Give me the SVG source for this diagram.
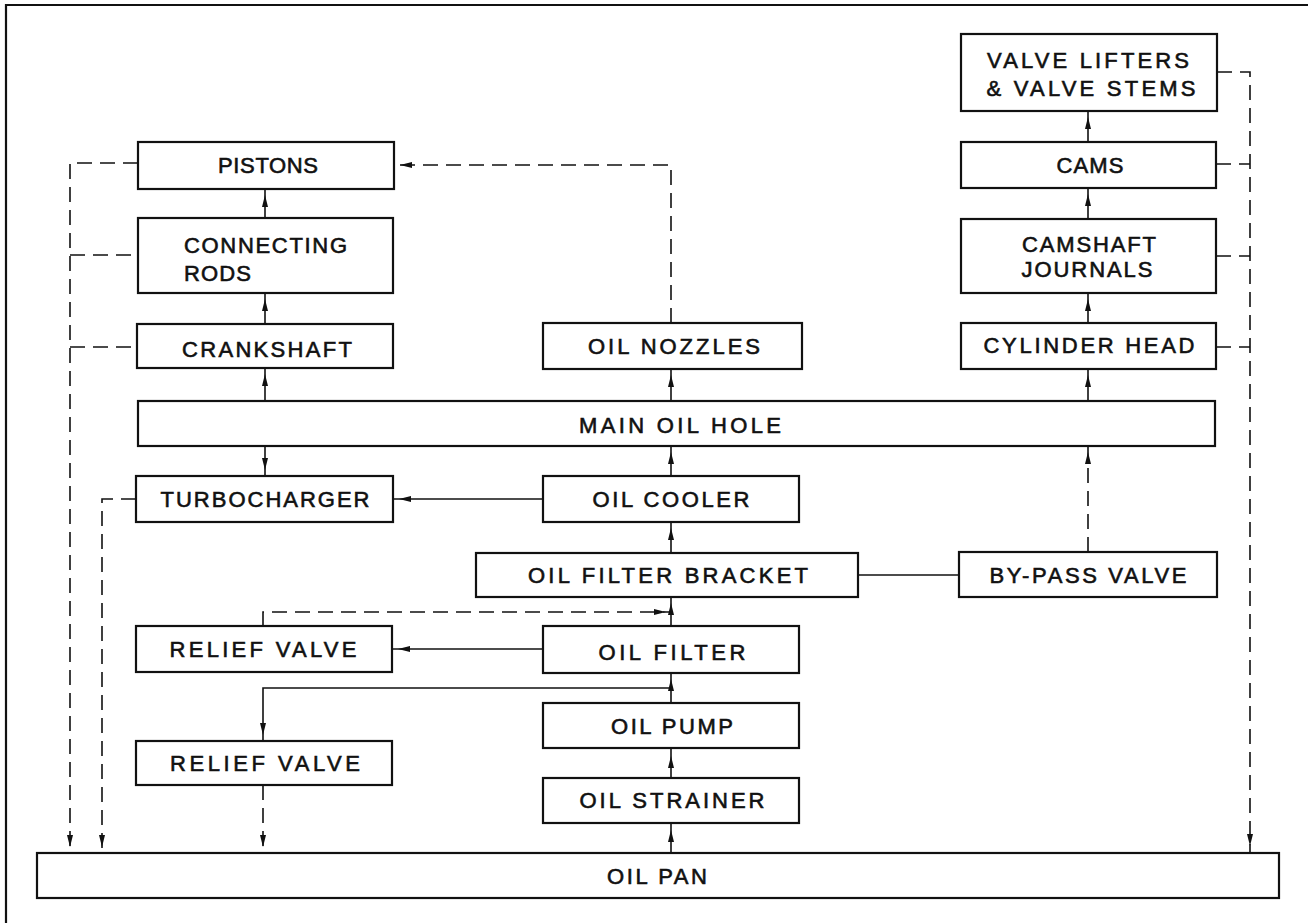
<svg xmlns="http://www.w3.org/2000/svg" xmlns:xlink="http://www.w3.org/1999/xlink" width="1308" height="923" viewBox="0 0 1308 923">
<style>
.box{fill:#fff;stroke:#111;stroke-width:2.2}
.ln{fill:none;stroke:#111;stroke-width:1.6}
.dash{fill:none;stroke:#111;stroke-width:1.6;stroke-dasharray:15 8}
.t{font-family:"Liberation Sans",Arial,sans-serif;font-size:22px;fill:#111;stroke:#111;stroke-width:0.6;text-anchor:middle}
.tl{font-family:"Liberation Sans",Arial,sans-serif;font-size:22px;fill:#111;stroke:#111;stroke-width:0.6}
.frame{fill:none;stroke:#111;stroke-width:2.2}
</style>
<defs>
<path id="ah" d="M0,0 L-3,-12 L3,-12 Z" fill="#111"/>
</defs>
<rect width="1308" height="923" fill="#fff"/>
<path class="frame" d="M6,923 L6,5 L1308,5"/>

<g id="connectors">
<path class="ln" d="M265,401 L265,368"/><use xlink:href="#ah" transform="translate(265,374) rotate(180)"/>
<path class="ln" d="M265,324 L265,293"/><use xlink:href="#ah" transform="translate(265,299) rotate(180)"/>
<path class="ln" d="M265,218 L265,189"/><use xlink:href="#ah" transform="translate(265,195) rotate(180)"/>
<path class="ln" d="M265,446 L265,476"/><use xlink:href="#ah" transform="translate(265,470)"/>
<path class="ln" d="M671,401 L671,369"/><use xlink:href="#ah" transform="translate(671,375) rotate(180)"/>
<path class="ln" d="M671,476 L671,446"/><use xlink:href="#ah" transform="translate(671,452) rotate(180)"/>
<path class="ln" d="M671,553 L671,522"/><use xlink:href="#ah" transform="translate(671,528) rotate(180)"/>
<path class="ln" d="M671,626 L671,597"/><use xlink:href="#ah" transform="translate(671,603) rotate(180)"/>
<path class="ln" d="M671,703 L671,673"/><use xlink:href="#ah" transform="translate(671,679) rotate(180)"/>
<path class="ln" d="M671,778 L671,748"/><use xlink:href="#ah" transform="translate(671,756) rotate(180)"/>
<path class="ln" d="M671,853 L671,823"/><use xlink:href="#ah" transform="translate(671,830) rotate(180)"/>
<path class="ln" d="M543,499 L393,499"/><use xlink:href="#ah" transform="translate(399,499) rotate(90)"/>
<path class="ln" d="M543,649 L392,649"/><use xlink:href="#ah" transform="translate(398,649) rotate(90)"/>
<path class="ln" d="M858,575 L959,575"/>
<path class="dash" d="M263,626 L263,612 L671,612"/><use xlink:href="#ah" transform="translate(666,612) rotate(-90)"/>
<path class="ln" d="M671,688 L263,688 L263,741"/><use xlink:href="#ah" transform="translate(263,735)"/>
<path class="dash" d="M263,785 L263,853"/><use xlink:href="#ah" transform="translate(263,847)"/>
<path class="dash" d="M138,163 L70,163 L70,853"/><use xlink:href="#ah" transform="translate(70,847)"/>
<path class="dash" d="M70,255 L138,255"/>
<path class="dash" d="M70,347 L137,347"/>
<path class="dash" d="M136,499 L102,499 L102,853"/><use xlink:href="#ah" transform="translate(102,847)"/>
<path class="dash" d="M671,323 L671,165 L394,165"/><use xlink:href="#ah" transform="translate(400,165) rotate(90)"/>
<path class="dash" d="M1088,552 L1088,446"/><use xlink:href="#ah" transform="translate(1088,452) rotate(180)"/>
<path class="ln" d="M1088,401 L1088,369"/><use xlink:href="#ah" transform="translate(1088,375) rotate(180)"/>
<path class="ln" d="M1088,323 L1088,293"/><use xlink:href="#ah" transform="translate(1088,299) rotate(180)"/>
<path class="ln" d="M1088,219 L1088,188"/><use xlink:href="#ah" transform="translate(1088,194) rotate(180)"/>
<path class="ln" d="M1088,142 L1088,111"/><use xlink:href="#ah" transform="translate(1088,117) rotate(180)"/>
<path class="dash" d="M1217,72 L1250,72 L1250,852"/><use xlink:href="#ah" transform="translate(1250,846)"/>
<path class="dash" d="M1216,164 L1250,164"/>
<path class="dash" d="M1216,256 L1250,256"/>
<path class="dash" d="M1216,347 L1250,347"/>
</g>

<g id="pistons"><rect class="box" x="138" y="142" width="256" height="47"/><text class="t" x="268" y="173" textLength="100" lengthAdjust="spacing">PISTONS</text></g>
<g id="connecting-rods"><rect class="box" x="138" y="218" width="255" height="75"/><text class="tl" x="184" y="253" textLength="163" lengthAdjust="spacing">CONNECTING</text><text class="tl" x="184" y="281" textLength="67" lengthAdjust="spacing">RODS</text></g>
<g id="crankshaft"><rect class="box" x="137" y="324" width="256" height="44"/><text class="t" x="267" y="357" textLength="170" lengthAdjust="spacing">CRANKSHAFT</text></g>
<g id="oil-nozzles"><rect class="box" x="543" y="323" width="259" height="46"/><text class="t" x="674" y="354" textLength="172" lengthAdjust="spacing">OIL NOZZLES</text></g>
<g id="valve-lifters"><rect class="box" x="961" y="34" width="256" height="77"/><text class="t" x="1088" y="68" textLength="202" lengthAdjust="spacing">VALVE LIFTERS</text><text class="t" x="1091" y="96" textLength="209" lengthAdjust="spacing">&amp; VALVE STEMS</text></g>
<g id="cams"><rect class="box" x="961" y="142" width="255" height="46"/><text class="t" x="1090" y="173" textLength="67" lengthAdjust="spacing">CAMS</text></g>
<g id="camshaft-journals"><rect class="box" x="961" y="219" width="255" height="74"/><text class="t" x="1089" y="252" textLength="134" lengthAdjust="spacing">CAMSHAFT</text><text class="t" x="1087" y="277" textLength="131" lengthAdjust="spacing">JOURNALS</text></g>
<g id="cylinder-head"><rect class="box" x="961" y="323" width="255" height="46"/><text class="t" x="1089" y="353" textLength="211" lengthAdjust="spacing">CYLINDER HEAD</text></g>
<g id="main-oil-hole"><rect class="box" x="138" y="401" width="1077" height="45"/><text class="t" x="680" y="433" textLength="202" lengthAdjust="spacing">MAIN OIL HOLE</text></g>
<g id="turbocharger"><rect class="box" x="136" y="476" width="257" height="46"/><text class="t" x="265" y="507" textLength="209" lengthAdjust="spacing">TURBOCHARGER</text></g>
<g id="oil-cooler"><rect class="box" x="543" y="476" width="256" height="46"/><text class="t" x="671" y="507" textLength="157" lengthAdjust="spacing">OIL COOLER</text></g>
<g id="oil-filter-bracket"><rect class="box" x="476" y="553" width="382" height="44"/><text class="t" x="668" y="583" textLength="280" lengthAdjust="spacing">OIL FILTER BRACKET</text></g>
<g id="by-pass-valve"><rect class="box" x="959" y="552" width="258" height="45"/><text class="t" x="1088" y="583" textLength="197" lengthAdjust="spacing">BY-PASS VALVE</text></g>
<g id="relief-valve-1"><rect class="box" x="136" y="626" width="256" height="46"/><text class="t" x="263" y="657" textLength="187" lengthAdjust="spacing">RELIEF VALVE</text></g>
<g id="oil-filter"><rect class="box" x="543" y="626" width="256" height="47"/><text class="t" x="672" y="660" textLength="147" lengthAdjust="spacing">OIL FILTER</text></g>
<g id="oil-pump"><rect class="box" x="543" y="703" width="256" height="45"/><text class="t" x="672" y="734" textLength="122" lengthAdjust="spacing">OIL PUMP</text></g>
<g id="relief-valve-2"><rect class="box" x="136" y="741" width="256" height="44"/><text class="t" x="265" y="771" textLength="190" lengthAdjust="spacing">RELIEF VALVE</text></g>
<g id="oil-strainer"><rect class="box" x="543" y="778" width="256" height="45"/><text class="t" x="672" y="808" textLength="185" lengthAdjust="spacing">OIL STRAINER</text></g>
<g id="oil-pan"><rect class="box" x="37" y="853" width="1242" height="45"/><text class="t" x="657" y="884" textLength="100" lengthAdjust="spacing">OIL PAN</text></g>
</svg>
